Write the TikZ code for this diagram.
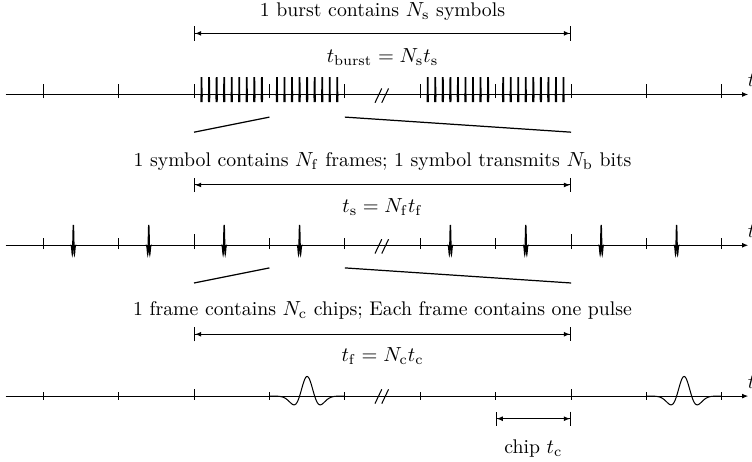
\documentclass[tikz,border=0pt]{standalone}
\usepackage{amsmath}
\usepackage{tikz}
\usetikzlibrary{arrows.meta}

\begin{document}
\begin{tikzpicture}[x=1.3cm, y=1.3cm,
  axis/.style={draw=black, line width=0.5pt, -{Latex[length=3pt,width=2.4pt]}},
  tck/.style={draw=black, line width=0.5pt},
  brk/.style={draw=black, line width=0.5pt},
  zoomline/.style={draw=black, line width=0.6pt},
  dim/.style={draw=black, line width=0.5pt,
              {Bar[width=7pt]Latex[length=3pt,width=2.4pt]}-{Latex[length=3pt,width=2.4pt]Bar[width=7pt]}},
  lbl/.style={font=\fontsize{9.7}{11}\selectfont, inner sep=1pt},
  wave/.style={draw=black, line width=0.5pt}
]
\useasboundingbox (-2.573,-4.861) rectangle (7.40,1.253);

% burst row
\node[lbl] (bursttxt) at (2.5,1.1)  {1 burst contains $N_{\mathrm{s}}$ symbols};
\node[lbl] (burstfml) at (2.5,0.5)  {$t_{\mathrm{burst}} = N_{\mathrm{s}}t_{\mathrm{s}}$};
\coordinate (bursta) at (0,0.81);
\coordinate (burstb) at (5,0.81);
\draw[dim] (bursta) -- (burstb);
\coordinate (ax1l) at (-2.5,0);
\coordinate (ax1r) at (7.35,0);
\draw[axis] (ax1l) -- (ax1r);
\node[lbl, anchor=base west, inner sep=0pt] (t1) at (7.34,0.1) {$t$};
\foreach \k in {-2,-1,0,1,2,3,4,5,6,7}
  \draw[tck] (\k,-0.05) -- (\k,0.14);
\foreach \k in {0,1,3,4}
  \foreach \j in {1,...,9}
    \draw[wave, line width=0.85pt] plot[domain=-0.5:0.5, samples=31, smooth]
      ({\k+0.1*\j+0.015*\x}, {0.23*(1-100*\x*\x)*exp(-50*\x*\x)});
\draw[brk] (2.40,-0.11) -- (2.49,0.08);
\draw[brk] (2.49,-0.11) -- (2.58,0.08);
\coordinate (z1a) at (0,-0.5);
\coordinate (z1b) at (1,-0.3);
\coordinate (z1c) at (2,-0.3);
\coordinate (z1d) at (5,-0.5);
\draw[zoomline] (z1a) -- (z1b);
\draw[zoomline] (z1c) -- (z1d);

% symbol row
\node[lbl] (symtxt) at (2.5,-0.89) {1 symbol contains $N_{\mathrm{f}}$ frames; 1 symbol transmits $N_{\mathrm{b}}$ bits};
\node[lbl] (symfml) at (2.5,-1.49) {$t_{\mathrm{s}} = N_{\mathrm{f}}t_{\mathrm{f}}$};
\coordinate (syma) at (0,-1.2);
\coordinate (symb) at (5,-1.2);
\draw[dim] (syma) -- (symb);
\coordinate (ax2l) at (-2.5,-2);
\coordinate (ax2r) at (7.35,-2);
\draw[axis] (ax2l) -- (ax2r);
\node[lbl, anchor=base west, inner sep=0pt] (t2) at (7.34,-1.9) {$t$};
\foreach \k in {-2,-1,1,2,3,4,6,7}
  \draw[tck] (\k,-2.05) -- (\k,-1.9);
\foreach \k in {0,5}
  \draw[tck] (\k,-2.05) -- (\k,-1.85);
\foreach \c in {-1.6,-0.6,0.4,1.4,3.4,4.4,5.4,6.4}
  \draw[wave, line width=0.6pt] plot[domain=-0.5:0.5, samples=41, smooth]
    ({\c+0.08*\x}, {-2+0.27*(1-100*\x*\x)*exp(-50*\x*\x)});
\draw[brk] (2.40,-2.11) -- (2.49,-1.92);
\draw[brk] (2.49,-2.11) -- (2.58,-1.92);
\coordinate (z2a) at (0,-2.5);
\coordinate (z2b) at (1,-2.3);
\coordinate (z2c) at (2,-2.3);
\coordinate (z2d) at (5,-2.5);
\draw[zoomline] (z2a) -- (z2b);
\draw[zoomline] (z2c) -- (z2d);

% frame row
\node[lbl] (frmtxt) at (2.5,-2.87) {1 frame contains $N_{\mathrm{c}}$ chips; Each frame contains one pulse};
\node[lbl] (frmfml) at (2.5,-3.47) {$t_{\mathrm{f}} = N_{\mathrm{c}}t_{\mathrm{c}}$};
\coordinate (frma) at (0,-3.18);
\coordinate (frmb) at (5,-3.18);
\draw[dim] (frma) -- (frmb);
\coordinate (ax3l) at (-2.5,-4);
\coordinate (ax3r) at (7.35,-4);
\draw[axis] (ax3l) -- (ax3r);
\node[lbl, anchor=base west, inner sep=0pt] (t3) at (7.34,-3.9) {$t$};
\foreach \k in {-2,-1,1,2,3,4,6,7}
  \draw[tck] (\k,-4.05) -- (\k,-3.95);
\foreach \k in {0,5}
  \draw[tck] (\k,-4.05) -- (\k,-3.9);
\foreach \c in {1.5,6.5}
  \draw[wave] plot[domain=-0.5:0.5, samples=101, smooth]
    ({\c+\x}, {-4+0.26*(1-100*\x*\x)*exp(-50*\x*\x)});
\draw[brk] (2.40,-4.1) -- (2.49,-3.91);
\draw[brk] (2.49,-4.1) -- (2.58,-3.91);
\coordinate (chipa) at (4,-4.3);
\coordinate (chipb) at (5,-4.3);
\draw[dim] (chipa) -- (chipb);
\node[lbl] (chiptxt) at (4.5,-4.7) {chip $t_{\mathrm{c}}$};
\end{tikzpicture}
\end{document}
